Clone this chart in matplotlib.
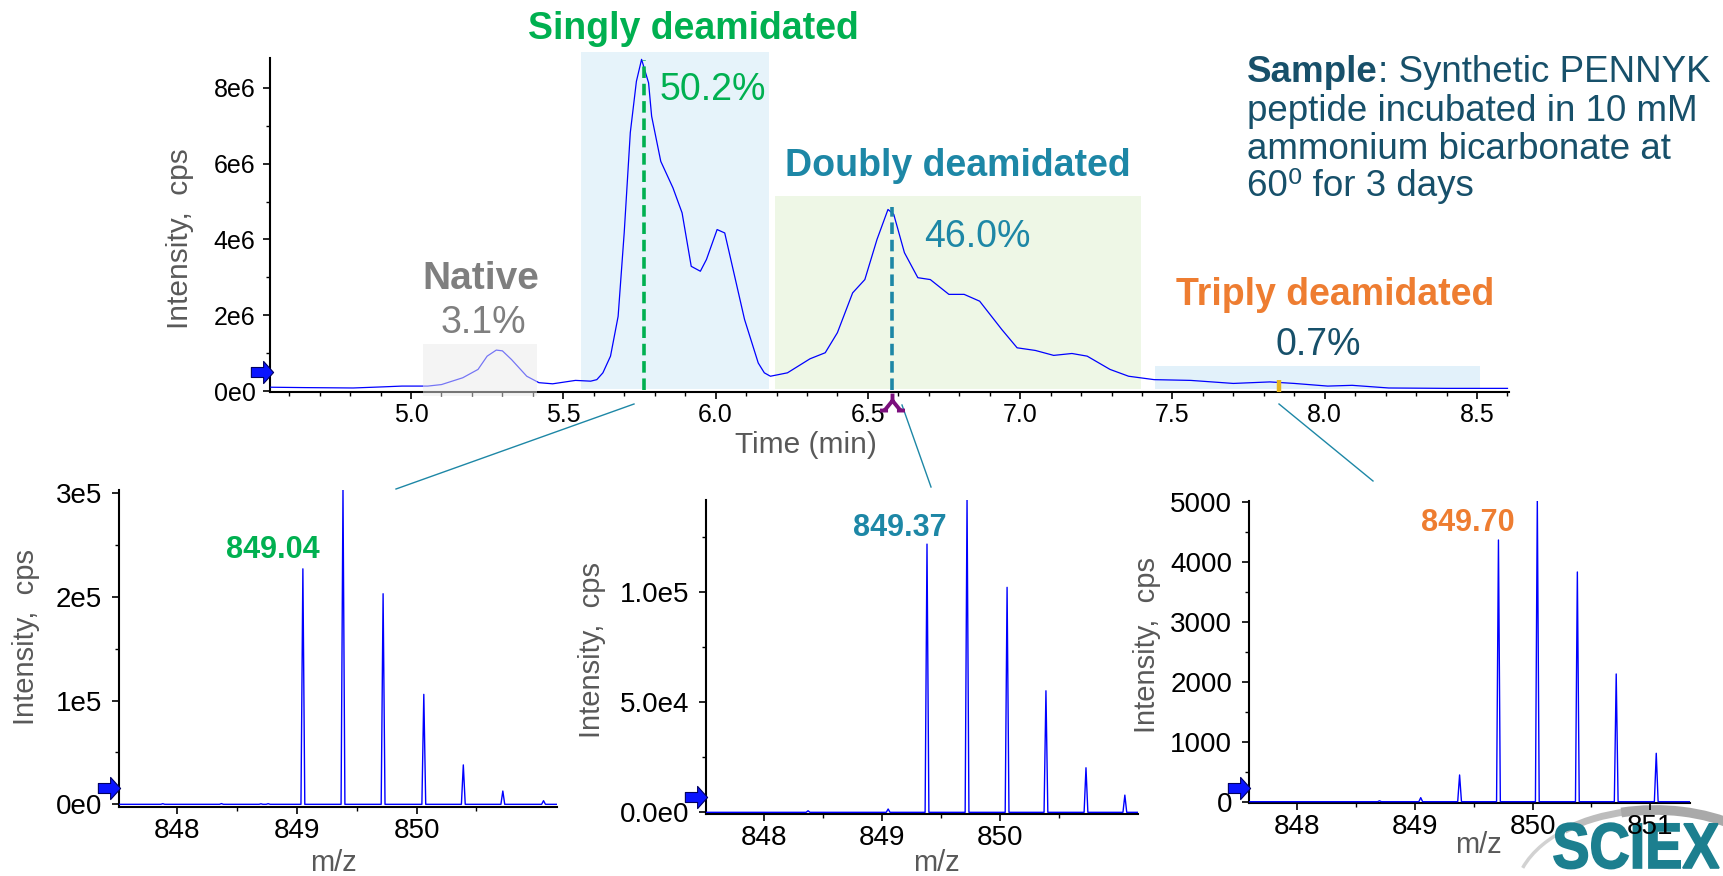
import numpy as np
import matplotlib
matplotlib.use('Agg')
import matplotlib.pyplot as plt
from matplotlib.patches import Rectangle, Arc, PathPatch
from matplotlib.path import Path
from matplotlib.textpath import TextPath
from matplotlib.font_manager import FontProperties
from matplotlib.transforms import blended_transform_factory, Affine2D

plt.rcParams['font.family'] = ['Liberation Sans', 'DejaVu Sans']

W, H = 1723, 876

# extracted ion chromatogram (time in min, intensity in cps)
time_min = [4.54, 4.65, 4.81, 4.91, 4.97, 5.055, 5.10, 5.17, 5.22, 5.25, 5.28, 5.30,
            5.33, 5.38, 5.42, 5.465, 5.54, 5.59, 5.61, 5.63, 5.655, 5.68, 5.70, 5.72,
            5.74, 5.757, 5.78, 5.79, 5.82, 5.86, 5.89, 5.92, 5.95, 5.97, 6.005, 6.03,
            6.05, 6.095, 6.14, 6.16, 6.18, 6.236, 6.31, 6.36, 6.40, 6.45, 6.49, 6.53,
            6.566, 6.585, 6.62, 6.664, 6.705, 6.766, 6.816, 6.867, 6.94, 6.99, 7.05,
            7.11, 7.17, 7.22, 7.295, 7.356, 7.44, 7.56, 7.70, 7.82, 7.90, 8.01, 8.09,
            8.21, 8.40, 8.60]
intensity_e6 = [0.10, 0.09, 0.08, 0.11, 0.13, 0.13, 0.17, 0.35, 0.57, 0.92, 1.08, 1.06,
                0.83, 0.39, 0.22, 0.19, 0.28, 0.26, 0.30, 0.48, 0.92, 1.97, 4.18, 6.82,
                8.17, 8.75, 8.13, 7.25, 6.06, 5.36, 4.70, 3.29, 3.16, 3.47, 4.26, 4.17,
                3.47, 1.89, 0.74, 0.48, 0.39, 0.48, 0.85, 1.01, 1.54, 2.59, 2.94, 4.00,
                4.79, 4.66, 3.65, 2.99, 2.94, 2.55, 2.55, 2.37, 1.62, 1.14, 1.07,
                0.94, 0.99, 0.92, 0.57, 0.39, 0.30, 0.28, 0.20, 0.24, 0.20, 0.13, 0.15,
                0.08, 0.07, 0.07]

# integration regions
region_names = ['Native', 'Singly deamidated', 'Doubly deamidated', 'Triply deamidated']
region_pct = ['3.1%', '50.2%', '46.0%', '0.7%']
region_start = [5.038, 5.558, 6.194, 7.443]
region_end = [5.413, 6.175, 7.397, 8.511]
region_top_e6 = [1.24, 8.94, 5.15, 0.66]
region_fill = ['#ebebeb', '#e6f3fa', '#eef7e6', '#e2f1fa']
name_colors = ['#7f7f7f', '#00b050', '#1d87a6', '#ee7d31']
pct_colors = ['#7f7f7f', '#00b050', '#1d87a6', '#17506a']

apex_times = [5.764, 6.58]
apex_tops_e6 = [8.73, 4.85]
apex_colors = ['#00b050', '#1d87a6']

# mass spectra (m/z, cps)
mz_single = [847.88, 848.37, 848.70, 848.76, 849.05, 849.385, 849.72, 850.06, 850.39, 850.72, 851.06]
int_single = [600, 700, 500, 600, 2.27e5, 3.04e5, 2.03e5, 1.06e5, 0.38e5, 0.128e5, 0.035e5]
mz_double = [848.37, 849.05, 849.38, 849.72, 850.06, 850.39, 850.73, 851.06]
int_double = [700, 1500, 1.216e5, 1.419e5, 1.02e5, 0.551e5, 0.202e5, 0.078e5]
mz_triple = [848.70, 849.05, 849.38, 849.71, 850.04, 850.38, 850.71, 851.05]
int_triple = [15, 67, 446, 4369, 5037, 3835, 2132, 808]

peak_labels = ['849.04', '849.37', '849.70']
peak_colors = ['#00b050', '#1d87a6', '#ee7d31']

GRAY = '#595959'
LINE_BLUE = '#0000ff'

fig = plt.figure(figsize=(W / 100, H / 100), dpi=100)


def px(x, y):
    return x / W, 1 - y / H


def add_ax(left, top, right, bottom, **kw):
    return fig.add_axes([left / W, 1 - bottom / H, (right - left) / W, (bottom - top) / H], **kw)


# overlay in pixel coordinates for connectors and logo
over = add_ax(0, 0, W, H, zorder=-1)
over.set_xlim(0, W)
over.set_ylim(H, 0)
over.axis('off')


def style(ax, fs, ypad):
    for s in ['top', 'right']:
        ax.spines[s].set_visible(False)
    for s in ['left', 'bottom']:
        ax.spines[s].set_linewidth(1.5)
    ax.patch.set_alpha(0)
    ax.tick_params(which='major', length=5, width=1.2, labelsize=fs)
    ax.tick_params(which='minor', length=3, width=1)
    ax.tick_params(axis='y', pad=ypad)
    ax.tick_params(axis='x', pad=3)


arrow_marker = Path([(-1, -0.45), (0.1, -0.45), (0.1, -1), (1, 0), (0.1, 1),
                     (0.1, 0.45), (-1, 0.45), (-1, -0.45)], closed=True)


def blue_arrow(ax, xfrac, yval, ms=16):
    tr = blended_transform_factory(ax.transAxes, ax.transData)
    ax.plot([xfrac], [yval], marker=arrow_marker, ms=ms, mfc='#0a14ff',
            mec='#000060', mew=0.8, transform=tr, clip_on=False, zorder=6)


# ---- chromatogram ----
ax = add_ax(270, 58, 1509, 392)
style(ax, 18, 5.5)
t = np.array(time_min)
I = np.array(intensity_e6) * 1e6
ax.plot(t, I, color=LINE_BLUE, lw=0.9, zorder=3)
for i in range(4):
    bottom = -0.13e6 if i == 0 else 0.05e6
    alpha = 0.5 if i == 0 else 1.0
    z = 4 if i == 0 else 1
    ax.add_patch(Rectangle((region_start[i], bottom), region_end[i] - region_start[i],
                           region_top_e6[i] * 1e6 - bottom, facecolor=region_fill[i],
                           edgecolor='none', alpha=alpha, zorder=z, clip_on=False))
for tt, top, c in zip(apex_times, apex_tops_e6, apex_colors):
    ax.plot([tt, tt], [0.02e6, top * 1e6], color=c, lw=2.6, ls=(0, (3.2, 1.6)), zorder=5)
ax.plot([7.85, 7.85], [-0.02e6, 0.29e6], color='#e5b41c', lw=3.2, solid_capstyle='butt', zorder=5)

caret = Path([(0, 1), (0, 0.2), (-0.9, -0.9), (0, 0.2), (0.9, -0.9),
              (-1.4, -0.9), (-0.5, -0.9), (0.5, -0.9), (1.4, -0.9)],
             [Path.MOVETO, Path.LINETO, Path.MOVETO, Path.LINETO, Path.LINETO,
              Path.MOVETO, Path.LINETO, Path.MOVETO, Path.LINETO])
ax.plot([6.58], [-0.03], marker=caret, ms=18, mec='#7b0f7d', mfc='none', mew=2.8,
        transform=blended_transform_factory(ax.transData, ax.transAxes), clip_on=False, zorder=6)

ax.set_xlim(4.537, 8.605)
ax.set_ylim(-0.026e6, 8.786e6)
ax.set_xticks([5.0, 5.5, 6.0, 6.5, 7.0, 7.5, 8.0, 8.5])
ax.set_xticklabels(['5.0', '5.5', '6.0', '6.5', '7.0', '7.5', '8.0', '8.5'])
ax.set_xticks(np.arange(4.6, 8.61, 0.1), minor=True)
ax.set_yticks([0, 2e6, 4e6, 6e6, 8e6])
ax.set_yticklabels(['0e0', '2e6', '4e6', '6e6', '8e6'])
ax.set_yticks([1e6, 3e6, 5e6, 7e6], minor=True)
blue_arrow(ax, -0.0065, 0.49e6)

# region labels
name_pos = [(481, 289), (693, 39), (958, 176), (1335, 305)]
pct_pos = [(483, 333), (713, 100), (977, 247), (1318, 355)]
name_sizes = [28, 27, 27, 27]
for i in range(4):
    fig.text(*px(*name_pos[i]), region_names[i], color=name_colors[i], fontsize=name_sizes[i],
             fontweight='bold', ha='center', va='baseline')
    fig.text(*px(*pct_pos[i]), region_pct[i], color=pct_colors[i], fontsize=27,
             ha='center', va='baseline')

fig.text(*px(806, 445), 'Time (min)', color=GRAY, fontsize=21.5, ha='center', va='center')
fig.text(*px(180, 239), 'Intensity,  cps', color=GRAY, fontsize=21.5, rotation=90,
         ha='center', va='center')

# sample description
SAMPLE_C = '#17506a'
r = fig.canvas.get_renderer()
t1 = fig.text(*px(1247, 82), 'Sample', color=SAMPLE_C, fontsize=26.5, fontweight='bold', va='baseline')
bb = t1.get_window_extent(renderer=r)
fig.text(bb.x1 / W, 1 - 82 / H, ': Synthetic PENNYK', color=SAMPLE_C, fontsize=26.5, va='baseline')
for line, yb in zip(['peptide incubated in 10 mM', 'ammonium bicarbonate at', '60\u2070 for 3 days'],
                    [121, 159, 196]):
    fig.text(*px(1247, yb), line, color=SAMPLE_C, fontsize=26.5, va='baseline')

# ---- spectra ----
def stick_trace(centers, heights, lo, hi, hw=0.016):
    xs, ys = [lo], [0]
    for c, h in sorted(zip(centers, heights)):
        xs += [c - hw, c, c + hw]
        ys += [0, h, 0]
    xs.append(hi)
    ys.append(0)
    return xs, ys


panel_boxes = [(118.5, 490, 556.7, 806.7), (705.6, 500, 1137.8, 814.3), (1248.8, 500.7, 1690.4, 803.3)]
panel_xlims = [(847.51, 851.17), (847.50, 851.17), (847.59, 851.34)]
panel_ylims = [(-2300, 3.03e5), (-900, 1.416e5), (-27, 5025)]
panel_yticks = [[0, 1e5, 2e5, 3e5], [0, 5e4, 1e5], [0, 1000, 2000, 3000, 4000, 5000]]
panel_yticklabels = [['0e0', '1e5', '2e5', '3e5'], ['0.0e0', '5.0e4', '1.0e5'],
                     ['0', '1000', '2000', '3000', '4000', '5000']]
panel_yminor = [[0.5e5, 1.5e5, 2.5e5], [2.5e4, 7.5e4, 1.25e5], [500, 1500, 2500, 3500, 4500]]
panel_xticks = [[848, 849, 850], [848, 849, 850], [848, 849, 850, 851]]
panel_xminor = [[848.5, 849.5, 850.5], [848.5, 849.5, 850.5], [848.5, 849.5, 850.5]]
panel_data = [(mz_single, int_single), (mz_double, int_double), (mz_triple, int_triple)]
panel_arrow = [(-0.021, 15700), (-0.022, 7070), (-0.022, 229)]
label_pos = [(273, 558), (900, 536), (1468, 531)]
ylab_pos = [(26, 637), (591.5, 650), (1147, 645)]
mz_pos = [(333, 863), (936, 863), (1478, 845)]

for k in range(3):
    a = add_ax(*panel_boxes[k])
    style(a, 20, 7)
    xs, ys = stick_trace(*panel_data[k], *panel_xlims[k])
    a.plot(xs, ys, color=LINE_BLUE, lw=1.0, zorder=3)
    a.set_xlim(*panel_xlims[k])
    a.set_ylim(*panel_ylims[k])
    a.set_xticks(panel_xticks[k])
    a.set_xticklabels([str(v) for v in panel_xticks[k]])
    a.set_xticks(panel_xminor[k], minor=True)
    a.set_yticks(panel_yticks[k])
    a.set_yticklabels(panel_yticklabels[k])
    a.set_yticks(panel_yminor[k], minor=True)
    blue_arrow(a, *panel_arrow[k])
    fig.text(*px(*label_pos[k]), peak_labels[k], color=peak_colors[k], fontsize=22,
             fontweight='bold', ha='center', va='baseline')
    fig.text(*px(*ylab_pos[k]), 'Intensity,  cps', color=GRAY, fontsize=21, rotation=90,
             ha='center', va='center')
    fig.text(*px(*mz_pos[k]), 'm/z', color=GRAY, fontsize=21, ha='center', va='center')

# connectors from chromatogram to spectra
TEAL = '#1d87a6'
for (x0, y0), (x1, y1) in [((634, 404), (396, 489)), ((902, 405), (931, 487)), ((1279, 404), (1373, 481))]:
    over.plot([x0, x1], [y0, y1], color=TEAL, lw=1.0)

# SCIEX logo: gray swoosh behind stretched bold letters
sw_c, sw_w, sw_h = (1655, 896), 280, 172
over.add_patch(Arc(sw_c, sw_w, sw_h, theta1=192, theta2=220, color='#d2d2d2', lw=2.5))
over.add_patch(Arc(sw_c, sw_w, sw_h, theta1=216, theta2=252, color='#bdbdbd', lw=5))
over.add_patch(Arc(sw_c, sw_w, sw_h, theta1=248, theta2=320, color='#a9a9a9', lw=7))
logo = TextPath((0, 0), 'SCIEX', size=1, prop=FontProperties(family='Liberation Sans', weight='bold'))
ext = logo.get_extents()
sx = 165 / ext.width
sy = 46 / 0.716
logo_t = Affine2D().translate(-ext.x0, 0).scale(sx, -sy).translate(1554, 868)
over.add_patch(PathPatch(logo_t.transform_path(logo), facecolor='#1c7f8f', edgecolor='#1c7f8f',
                         lw=1.2, zorder=5))

fig.savefig('out.png', dpi=100)
